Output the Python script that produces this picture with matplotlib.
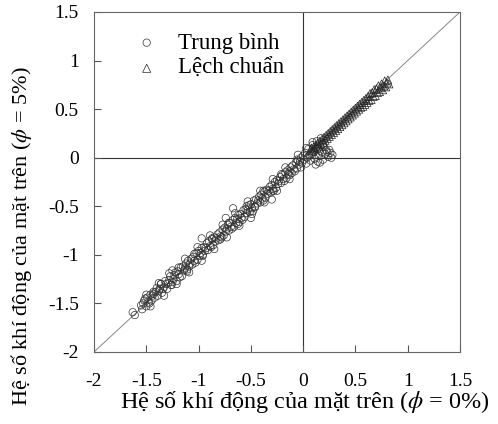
import matplotlib
matplotlib.use("Agg")
import matplotlib.pyplot as plt

plt.rcParams['font.family'] = ['Liberation Serif', 'DejaVu Serif']
plt.rcParams['mathtext.fontset'] = 'stix'

# mean pressure coefficient, phi = 0% (x) vs phi = 5% (y)
meanX = [-1.63, -1.61, -1.55, -1.54, -1.52, -1.50, -1.49, -1.47, -1.46, -1.45, -1.43, -1.42,
         -1.40, -1.39, -1.38, -1.36, -1.35, -1.33, -1.32, -1.30, -1.29, -1.27, -1.26, -1.24,
         -1.22, -1.21, -1.19, -1.17, -1.16, -1.14, -1.12, -1.11, -1.09, -1.07, -1.06, -1.04,
         -1.02, -1.01, -0.99, -0.97, -0.96, -0.94, -0.92, -0.91, -0.89, -0.87, -0.86, -0.84,
         -0.82, -0.81, -0.79, -0.77, -0.76, -0.74, -0.72, -0.71, -0.69, -0.67, -0.66, -0.64,
         -0.62, -0.61, -0.59, -0.57, -0.56, -0.54, -0.52, -0.51, -0.49, -0.47, -0.46, -0.44,
         -0.42, -0.41, -0.39, -0.37, -0.36, -0.34, -0.32, -0.31, -0.29, -0.27, -0.26, -0.24,
         -0.22, -0.21, -0.19, -0.17, -0.16, -0.14, -0.12, -0.11, -0.09, -0.07, -0.06, -0.04,
         -0.02, -0.01, 0.01, 0.02, 0.03, 0.05, 0.06, 0.07, 0.09, 0.10, 0.11, 0.13,
         0.14, 0.15, 0.17, 0.18, 0.19, 0.21, 0.22, 0.24, 0.26, 0.28, 0.12, 0.16,
         0.20, -0.67, -0.74, -0.97, -1.28, -0.50, -0.30,
         -1.53, -1.48, -1.44, -1.41, -1.37, -1.34, -1.31, -1.28, -1.25, -1.23, -1.20, -1.18,
         -1.15, -1.13, -1.10, -1.08, -1.05, -1.03, -1.00, -0.98, -0.95, -0.93, -0.90, -0.88,
         -0.85, -0.83, -0.80, -0.78, -0.75, -0.73, -0.70, -0.68, -0.65, -0.63, -0.60, -0.58,
         -0.55, -0.53, -0.50, -0.48, -0.45, -0.43, -0.40, -0.38, -0.35, -0.33, -0.30, -0.28,
         -0.25, -0.23, -0.20, -0.18, -0.15, -0.13, -0.10, -0.08, -0.05, -0.03, 0.00, 0.04,
         0.08, 0.12, 0.16, 0.23, 0.27,
         -1.51, -1.43, -1.36, -1.26, -1.19, -1.11, -1.04, -0.96, -0.87, -0.79, -0.71, -0.62,
         -0.54, -0.46, -0.38, -0.29, -0.21, -0.13, -0.06, 0.03, 0.09, 0.14, 0.19, 0.25,
         -1.50, -1.46, -1.38, -1.33, -1.25, -1.21, -1.13, -1.09, -1.01, -0.97, -0.89, -0.85,
         -0.77, -0.73, -0.65, -0.61, -0.53, -0.49, -0.41, -0.37, -0.29, -0.25, -0.17, -0.13,
         -0.05, -0.02]
meanY = [-1.59, -1.62, -1.52, -1.56, -1.47, -1.53, -1.44, -1.50, -1.41, -1.47, -1.38, -1.44,
         -1.34, -1.42, -1.37, -1.30, -1.39, -1.33, -1.27, -1.35, -1.29, -1.22, -1.31, -1.25,
         -1.18, -1.27, -1.20, -1.13, -1.22, -1.16, -1.09, -1.17, -1.12, -1.04, -1.10, -1.06,
         -0.98, -1.05, -1.01, -0.93, -1.00, -0.96, -0.88, -0.95, -0.91, -0.83, -0.90, -0.86,
         -0.79, -0.85, -0.81, -0.74, -0.80, -0.76, -0.69, -0.75, -0.71, -0.64, -0.71, -0.67,
         -0.59, -0.66, -0.62, -0.54, -0.61, -0.57, -0.49, -0.56, -0.52, -0.44, -0.51, -0.47,
         -0.40, -0.46, -0.42, -0.35, -0.41, -0.37, -0.30, -0.36, -0.32, -0.25, -0.31, -0.27,
         -0.20, -0.26, -0.22, -0.15, -0.21, -0.17, -0.10, -0.16, -0.12, -0.05, -0.11, -0.07,
         0.00, -0.05, -0.02, 0.05, -0.06, 0.09, 0.02, -0.03, 0.13, 0.06, -0.01, 0.17,
         0.09, 0.02, 0.20, 0.06, -0.02, 0.04, 0.08, 0.01, 0.05, 0.03, -0.07, -0.05,
         0.11, -0.52, -0.62, -0.83, -1.19, -0.62, -0.43,
         -1.50, -1.49, -1.42, -1.38, -1.35, -1.35, -1.30, -1.26, -1.28, -1.21, -1.17, -1.23,
         -1.12, -1.14, -1.06, -1.09, -1.02, -1.08, -0.96, -0.98, -0.92, -0.93, -0.86, -0.92,
         -0.82, -0.83, -0.77, -0.82, -0.72, -0.73, -0.67, -0.73, -0.62, -0.63, -0.58, -0.64,
         -0.53, -0.54, -0.48, -0.55, -0.43, -0.44, -0.38, -0.44, -0.33, -0.34, -0.28, -0.34,
         -0.23, -0.24, -0.18, -0.24, -0.13, -0.14, -0.08, -0.14, -0.03, -0.04, 0.02, 0.00,
         0.04, 0.03, 0.07, 0.06, 0.00,
         -1.45, -1.40, -1.30, -1.31, -1.13, -1.15, -0.99, -1.01, -0.84, -0.84, -0.67, -0.68,
         -0.50, -0.50, -0.34, -0.34, -0.17, -0.18, -0.02, 0.10, 0.16, -0.04, 0.14, 0.08,
         -1.41, -1.53, -1.29, -1.42, -1.16, -1.30, -1.04, -1.18, -0.92, -1.06, -0.80, -0.94,
         -0.69, -0.82, -0.57, -0.70, -0.45, -0.58, -0.34, -0.46, -0.22, -0.34, -0.10, -0.22,
         0.03, -0.10]

# standard deviation, phi = 0% (x) vs phi = 5% (y)
stdX = [0.07, 0.08, 0.09, 0.10, 0.11, 0.12, 0.13, 0.14, 0.15, 0.16, 0.17, 0.18, 0.19, 0.20,
        0.21, 0.22, 0.23, 0.24, 0.25, 0.26, 0.27, 0.28, 0.29, 0.30, 0.31, 0.32, 0.33, 0.34,
        0.35, 0.36, 0.37, 0.38, 0.39, 0.40, 0.41, 0.42, 0.43, 0.44, 0.45, 0.46, 0.47, 0.48,
        0.49, 0.50, 0.51, 0.52, 0.53, 0.54, 0.55, 0.56, 0.57, 0.58, 0.59, 0.60, 0.61, 0.62,
        0.63, 0.64, 0.65, 0.66, 0.67, 0.68, 0.69, 0.70, 0.71, 0.72, 0.73, 0.74, 0.75, 0.76,
        0.77, 0.78, 0.79, 0.80, 0.81, 0.82]
stdY = [0.08, 0.10, 0.07, 0.11, 0.09, 0.13, 0.11, 0.15, 0.12, 0.17, 0.14, 0.19, 0.16, 0.21,
        0.18, 0.23, 0.20, 0.25, 0.22, 0.27, 0.24, 0.29, 0.26, 0.31, 0.28, 0.33, 0.30, 0.35,
        0.32, 0.37, 0.34, 0.39, 0.36, 0.41, 0.38, 0.43, 0.40, 0.45, 0.42, 0.47, 0.44, 0.49,
        0.46, 0.51, 0.48, 0.53, 0.50, 0.55, 0.52, 0.57, 0.53, 0.59, 0.55, 0.61, 0.57, 0.63,
        0.59, 0.66, 0.60, 0.67, 0.63, 0.70, 0.64, 0.71, 0.67, 0.74, 0.68, 0.72, 0.76, 0.70,
        0.74, 0.79, 0.73, 0.77, 0.80, 0.76]

ticks = [-2, -1.5, -1, -0.5, 0, 0.5, 1, 1.5]
tickLabels = ['-2', '-1.5', '-1', '-0.5', '0', '0.5', '1', '1.5']

fig = plt.figure(figsize=(4.98, 4.24), dpi=100)
ax = fig.add_axes([94 / 498, 1 - 352 / 424, 366 / 498, 340 / 424])

# reference lines: diagonal and the two zero axes
ax.plot([-2, 1.5], [-2, 1.5], color='#888888', linewidth=0.7, zorder=1)
ax.axvline(0, color='#333333', linewidth=0.8, zorder=1)
ax.axhline(0, color='#333333', linewidth=0.8, zorder=1)

ax.scatter(meanX, meanY, s=28, marker='o', facecolors='none', edgecolors='#333333',
           linewidths=0.5, label='Trung bình', zorder=2)
ax.scatter(stdX, stdY, s=34, marker='^', facecolors='none', edgecolors='#222222',
           linewidths=0.5, label='Lệch chuẩn', zorder=3)

ax.set_xlim(-2, 1.5)
ax.set_ylim(-2, 1.5)
ax.set_xticks(ticks)
ax.set_xticklabels(tickLabels)
ax.set_yticks(ticks)
ax.set_yticklabels(tickLabels)
ax.tick_params(axis='both', direction='in', length=5, width=0.8, labelsize=14,
               color='#555555')
ax.tick_params(axis='x', pad=15)
ax.tick_params(axis='y', pad=11)
for sp in ax.spines.values():
    sp.set_color('#666666')
    sp.set_linewidth(0.8)

ax.set_xlabel(r'Hệ số khí động của mặt trên ($\phi$ = 0%)', fontsize=17.5)
ax.xaxis.set_label_coords(0.575, -0.11)
ax.set_ylabel(r'Hệ số khí động của mặt trên ($\phi$ = 5%)', fontsize=16)
ax.yaxis.set_label_coords(-0.163, 0.34)

leg = ax.legend(loc='upper left', bbox_to_anchor=(0.025, 1.0), frameon=False,
                fontsize=16.5, handletextpad=0.35, labelspacing=0.2, markerscale=1.0)

fig.savefig('out.png', dpi=100)
